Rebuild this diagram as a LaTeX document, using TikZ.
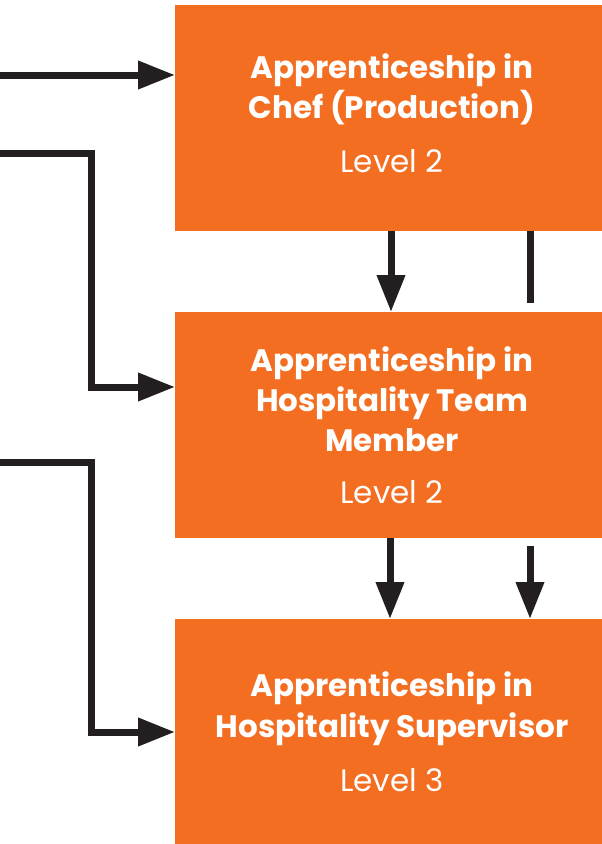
\documentclass[tikz,border=0pt]{standalone}
\usepackage{fontspec}
\setmainfont{Poppins}
\usetikzlibrary{arrows.meta}
\definecolor{boxorange}{HTML}{F46E22}
\definecolor{linedark}{HTML}{231F20}
\begin{document}
\begin{tikzpicture}[x=1pt,y=-1pt,
  card/.style={fill=boxorange,draw=none,minimum width=427pt,inner sep=0pt,outer sep=0pt},
  ttl/.style={text=white,font=\bfseries\fontsize{31}{38}\selectfont,anchor=base,inner sep=0pt},
  lvl/.style={text=white,font=\fontsize{31}{38}\selectfont,anchor=base,inner sep=0pt},
  conn/.style={draw=linedark,line width=7pt,-{Triangle[length=37pt,width=27pt]}},
  plain/.style={draw=linedark,line width=7pt}]
\useasboundingbox (0,0) rectangle (602,844);
\node[card,minimum height=226pt] (b1) at (388.5,118) {};
\node[card,minimum height=226pt] (b2) at (388.5,425) {};
\node[card,minimum height=225pt] (b3) at (388.5,731.5) {};
% texts
\node[ttl] (t1a) at (392,78) {Apprenticeship in};
\node[ttl] (t1b) at (392,118.5) {Chef (Production)};
\node[lvl] (t1c) at (392,172) {Level 2};
\node[ttl] (t2a) at (392,371) {Apprenticeship in};
\node[ttl] (t2b) at (392,411.5) {Hospitality Team};
\node[ttl] (t2c) at (392,451) {Member};
\node[lvl] (t2d) at (392,503) {Level 2};
\node[ttl] (t3a) at (392,696) {Apprenticeship in};
\node[ttl] (t3b) at (392,737) {Hospitality Supervisor};
\node[lvl] (t3c) at (392,791) {Level 3};
% connectors from left
\coordinate (s1) at (0,75);
\coordinate (s2) at (0,153);
\coordinate (s3) at (0,462);
\draw[conn] (s1) -- (b1.west |- s1);
\draw[conn] (s2) -- (91,153) |- (b2.west |- 0,387);
\draw[conn] (s3) -- (91,462) |- (b3.west |- 0,732);
% vertical connectors
\coordinate (e1) at (530,303);
\coordinate (e2) at (530,546);
\draw[conn] (b1.south -| 391,0) -- (b2.north -| 391,0);
\draw[plain] (b1.south -| e1) -- (e1);
\draw[conn] (b2.south -| 390,0) -- (b3.north -| 390,0);
\draw[conn] (e2) -- (b3.north -| e2);
\end{tikzpicture}
\end{document}
